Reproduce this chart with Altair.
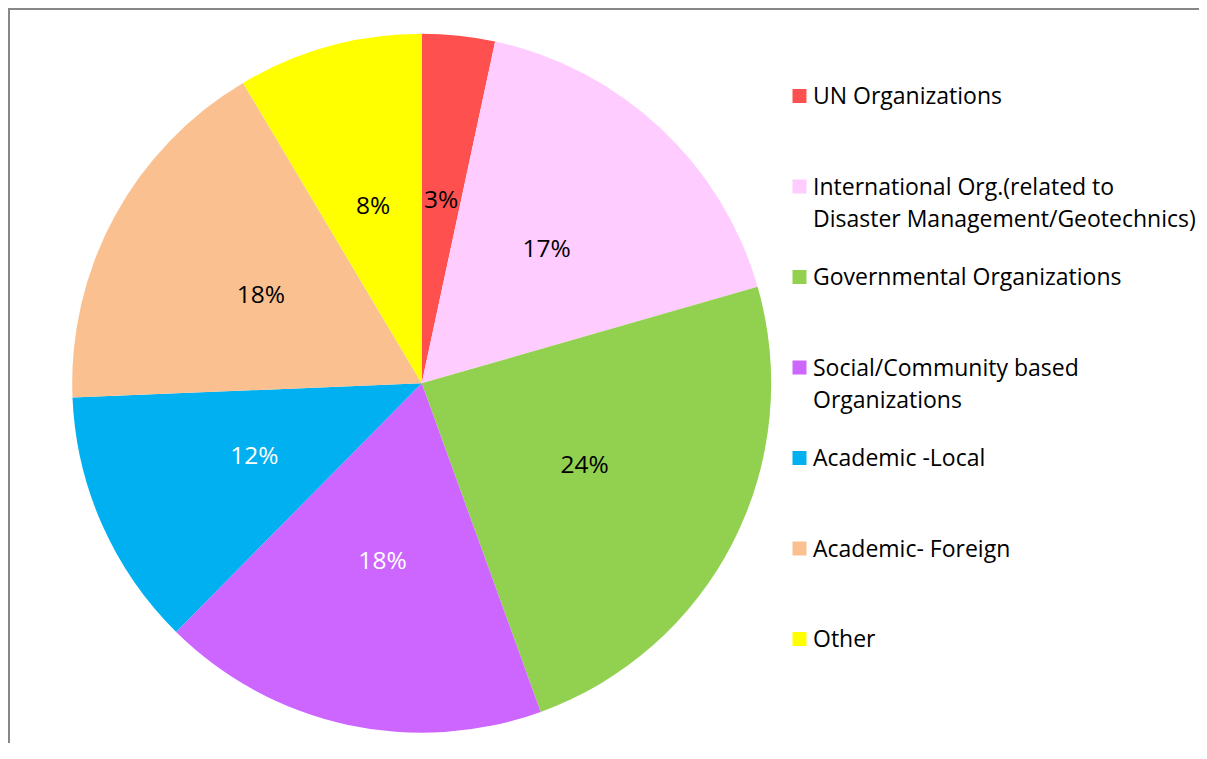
import altair as alt
import pandas as pd

categories = [
    "UN Organizations",
    "International Org.(related to\nDisaster Management/Geotechnics)",
    "Governmental Organizations",
    "Social/Community based\nOrganizations",
    "Academic -Local",
    "Academic- Foreign",
    "Other",
]
shares = [3.37, 17.18, 23.92, 17.93, 11.95, 17.11, 8.54]
pct_labels = ["3%", "17%", "24%", "18%", "12%", "18%", "8%"]
colors = ["#FF5050", "#FFCCFF", "#92D050", "#CC66FF", "#00B0F0", "#FAC090", "#FFFF00"]
label_colors = ["#000000", "#000000", "#000000", "#FFFFFF", "#FFFFFF", "#000000", "#000000"]

FONT = "Open Sans"
W, H = 1191, 735
CX, CY, R = 413.7, 375.3, 349.5

df = pd.DataFrame({
    "idx": list(range(len(categories))),
    "cat": categories,
    "share": shares,
    "pct": pct_labels,
    "lc": label_colors,
})

color_scale = alt.Scale(domain=categories, range=colors)
base = alt.Chart(df)

pie = base.mark_arc(outerRadius=R, stroke=None).encode(
    theta=alt.Theta("share:Q", stack=True),
    color=alt.Color("cat:N", scale=color_scale, legend=None),
    order=alt.Order("idx:Q"),
    x=alt.value(CX),
    y=alt.value(CY),
)

labels = base.mark_text(radius=183, fontSize=24.5, font=FONT).encode(
    theta=alt.Theta("share:Q", stack=True),
    text=alt.Text("pct:N"),
    color=alt.Color("lc:N", scale=None),
    order=alt.Order("idx:Q"),
    x=alt.value(CX),
    y=alt.value(CY),
)

ly = alt.Y("idx:Q", scale=alt.Scale(domain=[0, 6], range=[88, 631], zero=False, nice=False), axis=None)

leg_sq = base.mark_square(size=196, opacity=1).encode(
    y=ly,
    x=alt.value(791.5),
    color=alt.Color("cat:N", scale=color_scale, legend=None),
)

leg_txt = base.mark_text(
    align="left", baseline="alphabetic", dy=8, fontSize=23, lineHeight=32.5,
    font=FONT, lineBreak="\n", color="#000000",
).encode(
    y=ly,
    x=alt.value(805),
    text=alt.Text("cat:N"),
)

frame = pd.DataFrame({"a": [0]})
top_rule = alt.Chart(frame).mark_rule(color="#878787", strokeWidth=2).encode(
    x=alt.value(0), x2=alt.value(W), y=alt.value(1)
)
left_rule = alt.Chart(frame).mark_rule(color="#878787", strokeWidth=2).encode(
    x=alt.value(1), y=alt.value(0), y2=alt.value(H)
)

chart = (
    alt.layer(pie, labels, leg_sq, leg_txt, top_rule, left_rule)
    .resolve_scale(color="independent", theta="shared")
    .properties(width=W, height=H, padding=0, autosize=alt.AutoSizeParams(type="none"))
    .configure_view(stroke=None)
)

chart.save("out.html", embed_options={"renderer": "svg", "actions": False})
